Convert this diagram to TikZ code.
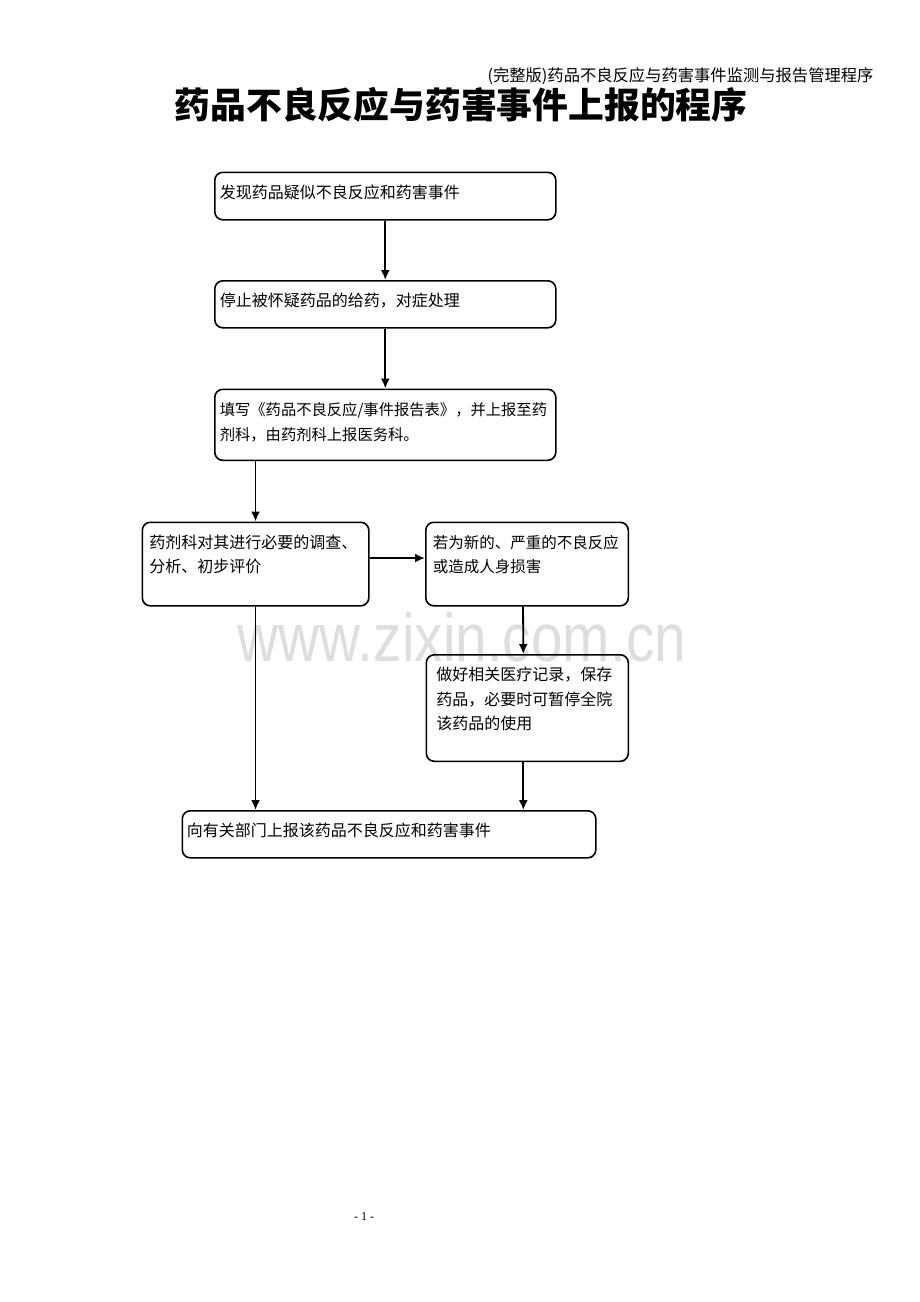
\documentclass[tikz,border=0pt]{standalone}
\usepackage{fontspec}
\setmainfont{Liberation Serif}
\newfontfamily\cjk{Noto Sans CJK SC}
\newfontfamily\wmfont{Liberation Sans}
\usetikzlibrary{positioning, arrows.meta}

\tikzset{
  stepbox/.style={draw, rounded corners=8pt, line width=1.6pt, anchor=north west,
    inner xsep=5pt, inner ysep=0pt, align=left, text height=26pt,
    font=\cjk\fontsize{16pt}{24.5pt}\selectfont},
  flow/.style={line width=1.8pt, -{Latex[length=10pt, width=9pt]}}
}

\begin{document}
\begin{tikzpicture}[x=1pt, y=-1pt]
    % Page frame
    \useasboundingbox (0,0) rectangle (920,1302);
    % Watermark
    \node[text=black!13, font=\wmfont\fontsize{68pt}{68pt}\selectfont, anchor=base] (mark) at (462,661)
        {\scalebox{0.835}[1]{www.zixin.com.cn}};
    % Running head and title
    \node[anchor=east, font=\cjk\fontsize{16.3pt}{16.3pt}\selectfont] (head) at (877,76)
        {(完整版)药品不良反应与药害事件监测与报告管理程序};
    \node[font=\cjk\bfseries\fontsize{35.8pt}{35.8pt}\selectfont] (title) at (461,105)
        {药品不良反应与药害事件上报的程序};
    % Steps
    \node[stepbox, text width=331pt, text depth=21.5pt] (find) at (214,171.5)
        {发现药品疑似不良反应和药害事件};
    \node[stepbox, text width=331pt, text depth=21pt] (stop) at (214,280)
        {停止被怀疑药品的给药，对症处理};
    \node[stepbox, text width=331pt, text depth=45pt, font=\cjk\fontsize{15.3pt}{25pt}\selectfont] (form) at (214,388.5)
        {填写《药品不良反应/事件报告表》，并上报至药\\剂科，由药剂科上报医务科。};
    \node[stepbox, inner xsep=7pt, text width=212.5pt, text depth=57.5pt] (assess) at (141.5,521.5)
        {药剂科对其进行必要的调查、\\分析、初步评价};
    \node[stepbox, inner xsep=7pt, text width=188.5pt, text depth=57.5pt, font=\cjk\fontsize{15.5pt}{24.5pt}\selectfont] (severe) at (425,521.5)
        {若为新的、严重的不良反应\\或造成人身损害};
    \node[stepbox, inner xsep=10pt, text width=182pt, text depth=80.5pt] (keep) at (425.5,654)
        {做好相关医疗记录，保存\\药品，必要时可暂停全院\\该药品的使用};
    \node[stepbox, inner xsep=4.5pt, text width=404.5pt, text depth=21pt] (report) at (181.5,810)
        {向有关部门上报该药品不良反应和药害事件};
    % Arrows down the main line
    \draw[flow] (find.south) -- (stop.north);
    \draw[flow] (stop.south) -- (form.north);
    \draw[flow] (form.south -| assess.north) -- (assess.north);
    % Serious cases branch
    \draw[flow] ([yshift=6pt]assess.east) -- ([yshift=6pt]assess.east -| severe.west);
    \draw[flow] ([xshift=-4pt]severe.south) -- ([xshift=-4pt]keep.north);
    \draw[flow] ([xshift=-4pt]keep.south) -- ([xshift=-4pt]keep.south |- report.north);
    % Direct report
    \draw[flow] (assess.south) -- (assess.south |- report.north);
    % Page number
    \node[font=\fontsize{12pt}{12pt}\selectfont] (page) at (364,1217) {- 1 -};
\end{tikzpicture}
\end{document}
